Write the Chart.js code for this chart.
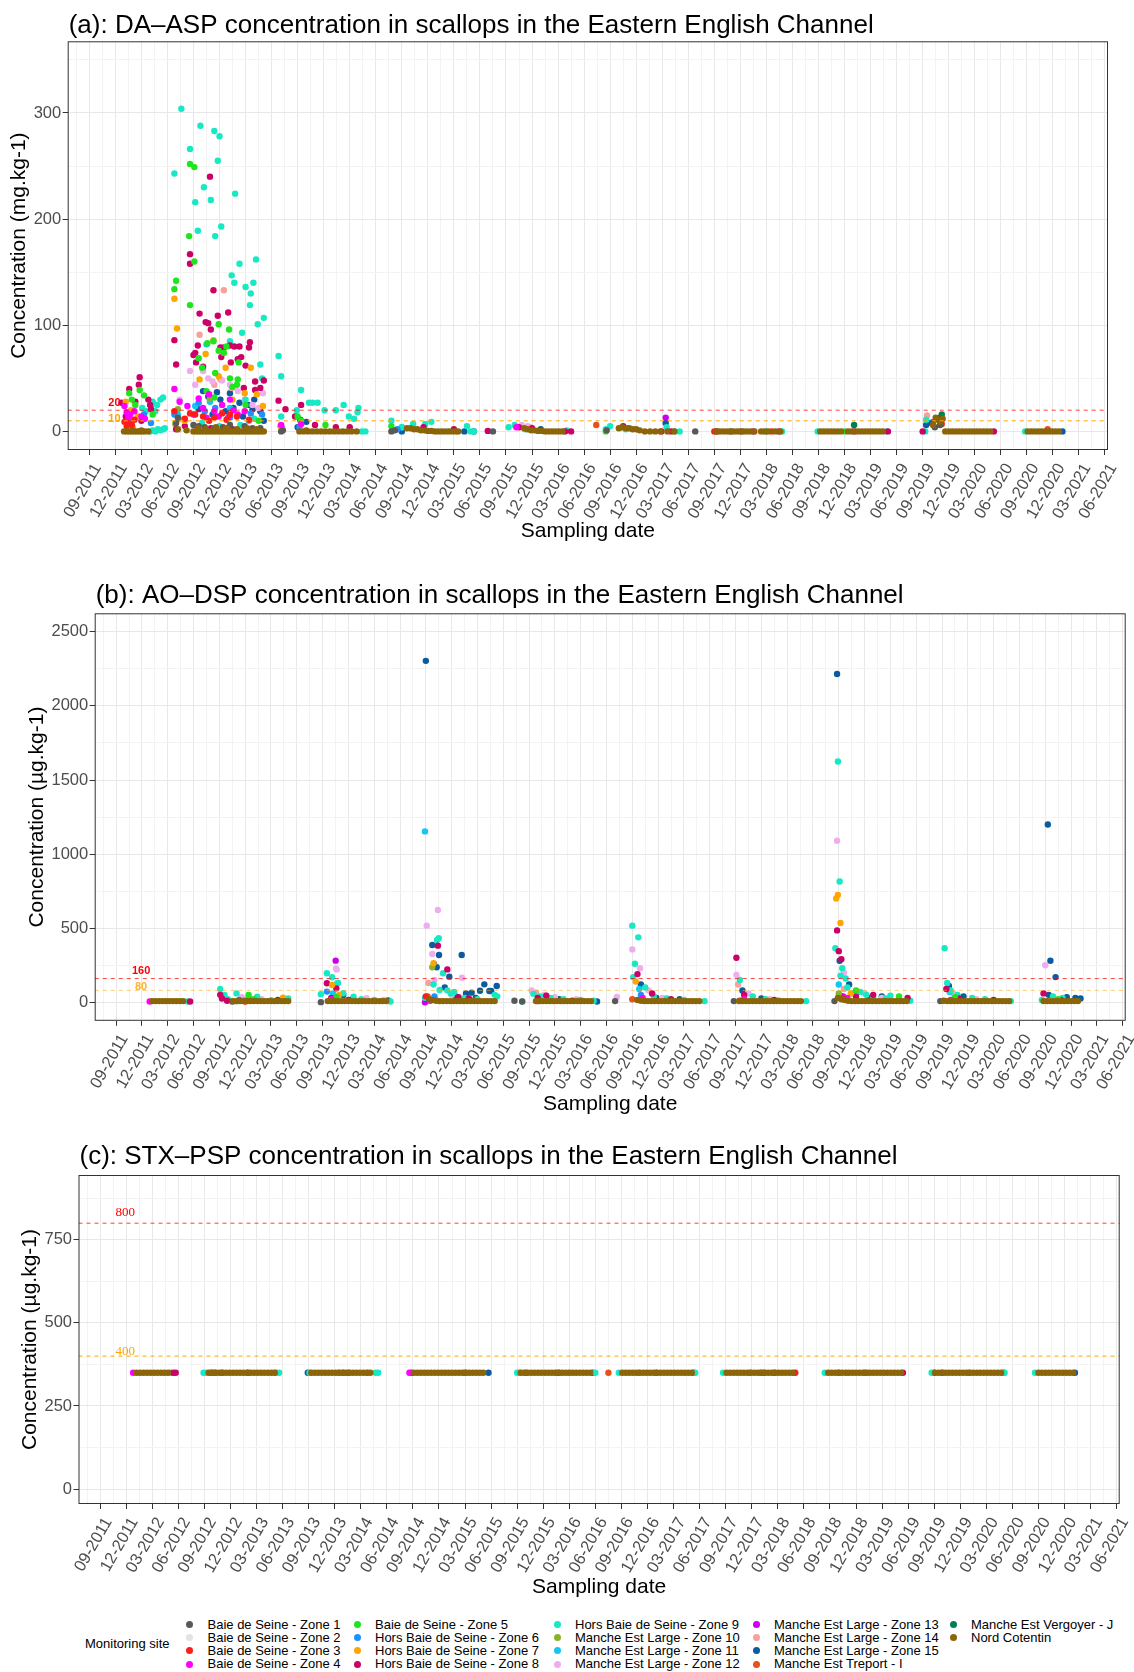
<!DOCTYPE html>
<html lang="en">
<head>
<meta charset="utf-8">
<title>Phycotoxins in scallops - Eastern English Channel</title>
<script src="https://cdn.jsdelivr.net/npm/chart.js@4"></script>
<style>
  * { box-sizing: border-box; margin: 0; padding: 0; }
  body { width: 1134px; height: 1672px; background: #fff; position: relative; overflow: hidden;
         font-family: 'Liberation Sans', Arial, sans-serif; }
  canvas.panel { position: absolute; left: 0; }
  .lg-item { position: absolute; height: 14px; line-height: 14px; font-size: 13px; color: #000;
             white-space: nowrap; display: flex; align-items: center; }
  .lg-dot { width: 7px; height: 7px; border-radius: 50%; margin-right: 14.5px; flex: none; }
  #lgTitle { position: absolute; left: 85px; top: 1637px; font-size: 13px; line-height: 14px; color: #000; }
</style>
</head>
<body>
<canvas id="aspChart" class="panel" width="1134" height="544" style="top:0"></canvas>
<canvas id="dspChart" class="panel" width="1134" height="557" style="top:560px"></canvas>
<canvas id="pspChart" class="panel" width="1134" height="480" style="top:1120px"></canvas>
<div id="lgTitle">Monitoring site</div>
<div id="legend"></div>
<script>
// x values are months counted from 01-2011 (8 = 09-2011, 20 = 09-2012, ...)
const dateTicks = ['09-2011','12-2011','03-2012','06-2012','09-2012','12-2012','03-2013','06-2013',
  '09-2013','12-2013','03-2014','06-2014','09-2014','12-2014','03-2015','06-2015','09-2015','12-2015',
  '03-2016','06-2016','09-2016','12-2016','03-2017','06-2017','09-2017','12-2017','03-2018','06-2018',
  '09-2018','12-2018','03-2019','06-2019','09-2019','12-2019','03-2020','06-2020','09-2020','12-2020',
  '03-2021','06-2021'];
const firstTick = 8;

const sites = ['Baie de Seine - Zone 1','Baie de Seine - Zone 2','Baie de Seine - Zone 3','Baie de Seine - Zone 4',
  'Baie de Seine - Zone 5','Hors Baie de Seine - Zone 6','Hors Baie de Seine - Zone 7','Hors Baie de Seine - Zone 8',
  'Hors Baie de Seine - Zone 9','Manche Est Large - Zone 10','Manche Est Large - Zone 11','Manche Est Large - Zone 12',
  'Manche Est Large - Zone 13','Manche Est Large - Zone 14','Manche Est Large - Zone 15','Manche Est Treport - I',
  'Manche Est Vergoyer - J','Nord Cotentin'];
const siteColors = ['#595959','#E3E3E3','#FF1C1C','#FF00FF','#1EE51E','#1E90FF','#FFA500','#CC0066',
  '#16E9C4','#8AB32C','#13C7F5','#EEAEEE','#CC00EE','#F7A09C','#0A5BA0','#E8501C','#00804F','#8B6508'];

// ---- (a) DA-ASP, mg/kg : [month, value]
const aspZone1 = [[18.2,13],[18.0,8],[20.0,6],[20.6,5],[21.3,4],[22.4,3],[23.4,4],[24.2,6],[25.9,5],[26.8,3],[27.7,3],
  [30.1,0],[30.3,1],[42.8,0],[43.2,1],[54.5,0],[67.6,1],[77.8,0],[81.9,0],[83.1,0],[105.4,4],[106.0,6]];
const aspZone2 = [[18.4,1.5],[19.8,0],[20.6,0.5],[22.4,2.5],[25.0,0],[70.5,2],[85.0,0]];
const aspZone3 = [[12.05,9],[12.3,5],[12.9,6],[13.2,11],[12.5,8],[17.8,19],[19.6,17],[20.2,16],[21.1,14],[22.4,13],
  [23.3,17],[24.2,16],[25.0,14],[26.4,11],[21.8,10],[23.8,11],[19.0,12],[80.0,0],[86.6,0],[106.2,7]];
const aspZone4 = [[12.05,24],[12.3,18],[12.7,16],[13.2,19],[14.0,14],[12.5,13],[14.4,12],[17.8,40],[18.4,28],[19.3,24],
  [20.0,16],[20.6,31],[21.1,22],[21.5,13],[21.8,35],[22.4,19],[22.9,14],[23.3,25],[24.0,13],[24.2,30],[24.6,20],
  [25.1,16],[25.9,19],[30.1,6],[32.4,7],[57.2,4],[84.5,0],[96.1,0]];
const aspZone5 = [[12.6,36],[13.8,39],[14.3,34],[13.3,25],[15.3,16],[12.9,30],[18.0,142],[17.8,134],[19.6,252],
  [19.5,184],[20.1,249],[20.1,160],[19.6,119],[20.6,69],[21.6,83],[22.3,85],[22.9,101],[22.9,76],[23.5,74],[24.1,96],
  [23.8,80],[24.2,50],[24.5,42],[25.0,44],[25.2,65],[25.1,49],[22.5,55],[21.5,38],[22.4,32],[21.0,60],[26.0,25],
  [27.5,10],[32.0,14],[32.4,10],[35.2,6],[42.8,5],[67.5,0],[95.0,0]];
const aspZone6 = [[17.8,16],[20.6,27],[21.3,19],[22.5,22],[24.2,13],[26.6,17],[27.9,16],[14.3,16],[15.1,8],[32.2,4],[43.5,2]];
const aspZone7 = [[12.2,28],[12.8,20],[13.6,14],[12.3,8],[13.0,4],[17.8,125],[18.1,97],[20.7,49],[21.4,73],[22.3,86],
  [22.9,52],[23.7,60],[26.6,60],[25.9,36],[27.3,35],[28.0,24],[23.5,74],[24.5,30],[19.0,10],[30.0,5]];
const aspZone8 = [[11.7,27],[12.6,40],[13.8,51],[13.7,44],[13.3,28],[14.8,30],[15.0,25],[15.1,21],[12.2,14],[14.0,10],
  [17.8,86],[18.0,63],[19.6,167],[19.6,158],[20.7,111],[21.4,103],[21.7,102],[22.0,96],[21.9,240],[22.3,133],
  [22.8,109],[24.0,112],[23.1,79],[23.2,70],[23.5,79],[24.3,65],[24.2,81],[24.7,80],[25.3,80],[25.1,68],[25.5,70],
  [26.5,84],[26.0,62],[26.4,79],[27.1,47],[28.1,48],[25.8,41],[20.2,74],[20.3,65],[20.5,81],[20.0,72],[21.1,61],
  [27.1,39],[27.7,41],[18.0,2],[19.0,5],[22.0,3],[24.5,2],[26.8,1],[29.8,29],[30.6,21],[32.4,25],[31.7,14],[34.0,6],
  [36.4,4],[38.0,4],[46.5,4],[50.0,2],[53.9,0.5],[57.5,4],[59.0,3],[62.8,0],[63.5,0],[69.5,5],[73.9,0],[75.0,0],
  [80.3,0],[87.4,0],[100.0,0],[104.0,0],[112.2,0]];
const aspZone9 = [[14.1,22],[14.5,19],[15.1,24],[15.3,28],[15.6,19],[15.8,25],[16.2,30],[16.5,32],[15.0,0],[15.3,1],
  [15.6,0],[15.9,2],[16.2,1],[16.5,2],[16.7,3],[17.8,243],[18.6,304],[19.6,266],[20.8,288],[20.2,216],[20.5,189],
  [21.2,230],[22.4,283],[23.0,278],[22.8,255],[22.0,218],[22.5,184],[23.2,193],[24.8,224],[24.4,147],[24.7,140],
  [25.3,158],[25.6,93],[26.0,136],[26.5,119],[26.6,130],[26.9,140],[27.2,162],[27.4,101],[27.7,63],[28.1,107],
  [27.9,50],[24.2,85],[26.0,30],[27.0,12],[25.4,6],[21.0,8],[23.0,5],[29.8,71],[30.1,52],[30.1,14],[32.4,39],
  [31.9,20],[33.3,27],[33.7,27],[34.3,27],[35.1,20],[36.4,20],[37.3,25],[37.9,14],[38.5,12],[39.0,22],[38.9,18],
  [39.4,0],[39.8,0],[42.8,10],[44.0,4],[45.3,7],[46.7,7],[47.4,9],[51.5,5],[51.9,0],[52.3,0],[56.3,4],[57.0,6],
  [58.2,2],[63.0,1],[67.5,2],[68.0,5],[69.8,2],[74.5,4],[75.4,0],[76.0,0],[86.0,0],[87.8,0],[91.9,0],[99.8,0],
  [104.4,11],[104.3,0],[115.8,0]];
const aspZone10 = [[18.2,21],[18.3,12],[21.9,31],[17.9,7]];
const aspZone11 = [[20.2,24],[21.9,28],[24.2,22],[26.4,10],[18.2,16],[44.0,4],[12.9,10],[21.5,82]];
const aspZone12 = [[19.6,57],[21.1,57],[21.7,50],[22.2,47],[23.3,48],[25.1,38],[26.8,25],[28.0,36],[27.5,22],[24.2,44],
  [25.9,30],[20.2,44],[18.4,30],[54.0,0.5],[57.8,6],[58.5,5],[30.2,2]];
const aspZone13 = [[74.4,13],[30.2,3]];
const aspZone14 = [[23.5,133],[20.7,91],[23.1,49],[22.4,44],[24.4,41],[104.5,15],[58.8,4],[70.0,3]];
const aspZone15 = [[21.1,38],[21.7,33],[22.7,37],[23.1,30],[24.2,36],[24.6,22],[25.3,27],[26.3,25],[26.8,21],[27.0,30],
  [27.7,19],[20.6,21],[23.7,19],[22.2,16],[25.7,14],[28.1,10],[32.3,11],[33.0,9],[32.0,4],[44.0,0],[51.2,0],[52.3,0],
  [60.0,2],[74.4,8],[104.4,6],[105.0,8],[120.1,0]];
const aspTreport = [[66.4,6],[105.2,9],[118.4,2]];
const aspVergoyer = [[96.1,6],[106.2,16],[106.0,13]];
const aspNordCotentin = [[12.0,0],[12.3,0],[12.6,0],[12.9,0],[13.2,0],[13.5,0],[13.8,0],[14.1,0],[14.4,0],[14.8,0],
  [13.0,1],[14.0,1],[18.2,2],[19.2,1],[20.0,0],[20.3,0],[20.6,0],[20.9,0],[21.2,0],[21.5,0],[21.8,0],[22.1,0],
  [22.4,0],[22.7,0],[23.0,0],[23.3,0],[23.6,0],[23.9,0],[24.2,0],[24.5,0],[24.8,0],[25.1,0],[25.4,0],[25.7,0],
  [26.0,0],[26.3,0],[26.6,0],[26.9,0],[27.2,0],[27.5,0],[27.8,0],[28.1,0],[20.5,3],[21.4,2],[22.6,4],[23.8,3],
  [25.0,2],[26.2,3],[27.3,2],[32.2,0],[32.7,0],[33.2,0],[33.7,0],[34.2,0],[34.7,0],[35.2,0],[35.7,0],[36.2,0],
  [36.7,0],[37.2,0],[37.7,0],[38.2,0],[38.8,0],[33.0,1],[44.6,3],[45.0,3],[45.4,2],[45.8,2],[46.2,1],[46.6,1],
  [47.0,0.5],[47.4,0.5],[47.8,0],[48.2,0],[48.6,0],[49.0,0],[49.4,0],[49.8,0],[50.2,0],[50.5,0],[58.1,3],[58.5,2],
  [58.9,1],[59.3,1],[59.7,0.5],[60.1,0.5],[60.5,0],[60.9,0],[61.3,0],[61.7,0],[62.1,0],[62.5,0],[69.0,3],[69.4,4],
  [69.8,3],[70.2,3],[70.6,2],[71.0,2],[71.4,1],[72.0,0],[72.6,0],[73.2,0],[73.8,0],[74.6,0],[75.4,0],[80.2,0],
  [80.6,0],[81.0,0],[81.4,0],[81.8,0],[82.2,0],[82.6,0],[83.0,0],[83.4,0],[83.8,0],[84.2,0],[84.6,0],[85.4,0],
  [85.8,0],[86.2,0],[87.0,0],[87.6,0],[92.2,0],[92.6,0],[93.0,0],[93.4,0],[93.8,0],[94.2,0],[94.6,0],[95.4,0],
  [95.8,0],[96.2,0],[96.6,0],[97.0,0],[97.4,0],[97.8,0],[98.2,0],[98.6,0],[99.0,0],[99.4,0],[105.2,6],[105.5,13],
  [105.9,10],[106.0,9],[106.3,12],[106.6,0],[107.0,0],[107.4,0],[107.8,0],[108.2,0],[108.6,0],[109.0,0],[109.4,0],
  [109.8,0],[110.2,0],[110.6,0],[111.0,0],[111.4,0],[111.8,0],[116.1,0],[116.5,0],[116.9,0],[117.3,0],[117.7,0],
  [118.1,0],[118.5,0],[118.9,0],[119.3,0],[119.7,0]];

// ---- (b) AO-DSP, µg/kg : [month, value]
const dspZone1 = [[21.5,5],[31.8,1],[54.3,10],[55.2,5],[66.0,8],[79.8,8],[91.5,8],[103.8,8]];
const dspZone2 = [[22.0,3],[57.0,3]];
const dspZone3 = [[23.0,5],[44.0,40],[80.5,10],[92.5,30]];
const dspZone4 = [[11.9,5],[22.3,15],[33.0,20],[44.5,10],[69.2,30],[81.0,20],[93.0,30],[105.0,15]];
const dspZone5 = [[23.4,49],[24.0,20],[33.6,35],[94.0,80],[99.0,40],[117.5,20],[105.5,35]];
const dspZone6 = [[32.5,72],[45.0,40],[69.0,50]];
const dspZone7 = [[27.4,31],[33.1,117],[33.9,50],[44.9,263],[68.4,140],[91.7,700],[91.9,725],[92.2,535],[93.4,60]];
const dspZone8 = [[16.6,5],[20.1,50],[20.3,25],[20.9,10],[23.5,20],[32.5,128],[33.6,94],[33.0,30],[35.0,15],[45.4,382],
  [46.5,222],[47.8,35],[49.0,25],[57.0,30],[58.0,45],[61.0,10],[68.6,190],[70.3,60],[72.5,20],[80.1,300],[81.0,50],
  [84.5,15],[91.8,485],[92.0,345],[92.3,290],[96.0,50],[100.0,30],[94.0,40],[104.5,90],[106.0,25],[115.8,60],[117.8,15]];
const dspZone9 = [[16.3,5],[20.1,90],[20.6,50],[22.0,60],[24.4,38],[28.0,25],[21.0,20],[23.0,15],[26.0,12],[27.6,10],
  [32.5,196],[33.1,169],[33.7,128],[33.8,130],[31.8,54],[34.4,61],[35.6,38],[36.5,20],[38.0,15],[39.9,5],[43.9,30],
  [45.5,432],[45.3,420],[46.0,196],[45.6,83],[44.9,120],[46.5,80],[47.3,70],[46.9,60],[52.0,50],[52.3,40],[48.5,30],
  [50.0,20],[56.5,57],[57.3,40],[58.5,30],[60.0,20],[62.0,15],[63.5,10],[55.2,5],[68.0,517],[68.7,438],[68.3,260],
  [68.1,170],[69.5,100],[70.5,40],[72.0,25],[74.0,15],[76.4,8],[80.5,150],[82.0,40],[83.5,20],[85.0,12],[88.2,8],
  [91.9,1625],[92.1,815],[91.6,365],[92.4,230],[92.2,180],[92.8,160],[93.0,100],[94.5,70],[98.0,45],[96.0,35],
  [97.5,25],[100.3,10],[93.6,60],[95.2,50],[104.3,365],[104.6,130],[105.0,80],[105.8,50],[107.5,30],[109.0,20],
  [112.0,8],[116.9,40],[118.0,30],[115.6,15]];
const dspZone10 = [[44.75,236],[92.0,60]];
const dspZone11 = [[43.9,1153],[33.2,60],[68.8,90],[92.0,120],[104.9,70]];
const dspZone12 = [[22.6,35],[24.9,20],[33.64,222],[33.55,229],[37.1,27],[39.1,16],[44.1,517],[45.4,623],[44.75,326],
  [48.2,166],[45.0,150],[47.0,50],[56.3,80],[57.8,50],[59.0,35],[61.5,20],[66.2,36],[68.0,357],[68.9,230],[69.9,80],
  [71.5,30],[80.1,185],[81.5,60],[84.0,20],[91.8,1090],[92.6,200],[95.0,60],[97.0,30],[105.3,60],[108.0,20],
  [116.0,250],[117.0,20]];
const dspZone13 = [[33.52,281],[43.9,0],[92.5,40]];
const dspZone14 = [[56.8,65],[80.3,120],[44.3,130],[92.6,90]];
const dspZone15 = [[26.0,10],[26.8,15],[34.4,49],[35.5,20],[39.6,12],[44.0,2304],[44.75,387],[45.53,319],[44.95,258],
  [45.26,236],[46.73,173],[48.17,319],[48.67,60],[49.33,65],[50.3,78],[50.8,121],[51.38,76],[51.6,76],[52.24,110],
  [47.5,40],[49.8,30],[46.2,100],[59.5,20],[63.9,5],[69.0,120],[70.8,30],[73.5,20],[80.8,80],[83.0,25],[91.8,2215],
  [92.1,280],[93.2,120],[97.0,40],[95.5,30],[99.0,20],[104.8,110],[106.5,40],[110.0,15],[116.3,1200],[116.6,280],
  [117.2,170],[116.4,50],[119.5,30],[120.1,25],[118.5,35]];
const dspTreport = [[44.2,40],[68.0,20]];
const dspVergoyer = [[92.2,45]];
const dspNordCotentin = [[12.2,8],[12.6,8],[13.0,8],[13.4,8],[13.8,8],[14.2,8],[14.6,8],[15.0,8],[15.4,8],[15.8,8],
  [21.6,8],[22.0,8],[22.4,8],[22.8,8],[23.2,8],[23.6,8],[24.0,8],[24.4,8],[24.8,8],[25.2,8],[25.6,8],[26.0,8],
  [26.4,8],[26.8,8],[27.2,8],[27.6,8],[28.0,8],[32.6,8],[33.0,8],[33.4,8],[33.8,8],[34.2,8],[34.6,8],[35.0,8],
  [35.4,8],[35.8,8],[36.2,8],[36.6,8],[37.0,8],[37.4,8],[37.8,8],[38.2,8],[38.6,8],[39.0,8],[39.4,8],[44.4,20],
  [44.8,15],[45.2,10],[45.6,8],[46.0,8],[46.4,8],[46.8,8],[47.2,8],[47.6,8],[48.0,8],[48.4,8],[48.8,8],[49.2,8],
  [49.6,8],[50.0,8],[50.4,8],[50.8,8],[51.2,8],[51.6,8],[52.0,8],[56.8,8],[57.2,8],[57.6,8],[58.0,8],[58.4,8],
  [58.8,8],[59.2,8],[59.6,8],[60.0,8],[60.4,8],[60.8,8],[61.2,8],[61.6,8],[62.0,8],[62.4,8],[62.8,8],[63.2,8],
  [68.6,15],[69.0,10],[69.4,8],[69.8,8],[70.2,8],[70.6,8],[71.0,8],[71.4,8],[71.8,8],[72.2,8],[72.6,8],[73.0,8],
  [73.4,8],[73.8,8],[74.2,8],[74.6,8],[75.0,8],[75.4,8],[75.8,8],[80.4,8],[80.8,8],[81.2,8],[81.6,8],[82.0,8],
  [82.4,8],[82.8,8],[83.2,8],[83.6,8],[84.0,8],[84.4,8],[84.8,8],[85.2,8],[85.6,8],[86.0,8],[86.4,8],[86.8,8],
  [87.2,8],[87.6,8],[91.9,30],[92.3,20],[92.7,15],[93.1,10],[93.5,8],[93.9,8],[94.3,8],[94.7,8],[95.1,8],[95.5,8],
  [95.9,8],[96.3,8],[96.7,8],[97.1,8],[97.5,8],[97.9,8],[98.3,8],[98.7,8],[99.1,8],[99.5,8],[99.9,8],[104.2,10],
  [104.6,8],[105.0,8],[105.4,8],[105.8,8],[106.2,8],[106.6,8],[107.0,8],[107.4,8],[107.8,8],[108.2,8],[108.6,8],
  [109.0,8],[109.4,8],[109.8,8],[110.2,8],[110.6,8],[111.0,8],[111.4,8],[111.8,8],[115.8,8],[116.2,8],[116.6,8],
  [117.0,8],[117.4,8],[117.8,8],[118.2,8],[118.6,8],[119.0,8],[119.4,8],[119.8,8]];

// ---- (c) STX-PSP : every result reported at the same level, so only sampling months are listed
const pspLevel = 350;
const pspZone1 = [21.2,22.0,36.6,60.8,72.0,104.9];
const pspZone3 = [57.0,84.4,88.0];
const pspZone4 = [11.8,43.6,96.0];
const pspZone8 = [16.4,16.7,20.8,25.0,85.6,100.4];
const pspZone9 = [16.05,19.9,20.2,28.3,28.6,32.1,39.7,40.0,56.0,56.3,60.5,65.0,67.7,70.0,76.5,79.7,88.0,91.4,
  103.7,112.1,115.6];
const pspZone11 = [38.8];
const pspZone12 = [28.0,62.0,96.4];
const pspZone13 = [36.0,104.0];
const pspZone14 = [94.0];
const pspZone15 = [31.9,43.8,52.7,64.7,76.3,112.0,120.2];
const pspTreport = [35.5,66.5,82.8,84.0,108.0];
const pspVergoyer = [50.0,93.0];
const pspNordCotentin = [12.2,12.6,13.0,13.4,13.8,14.2,14.6,15.0,15.4,15.8,
  20.5,20.9,21.3,21.7,22.1,22.5,22.9,23.3,23.7,24.1,24.5,24.9,25.3,25.7,26.1,26.5,26.9,27.3,27.7,28.1,
  32.3,32.7,33.1,33.5,33.9,34.3,34.7,35.1,35.5,35.9,36.3,36.7,37.1,37.5,37.9,38.3,38.7,39.1,
  44.1,44.5,44.9,45.3,45.7,46.1,46.5,46.9,47.3,47.7,48.1,48.5,48.9,49.3,49.7,50.1,50.5,50.9,51.3,51.7,52.1,
  56.4,56.8,57.2,57.6,58.0,58.4,58.8,59.2,59.6,60.0,60.4,60.8,61.2,61.6,62.0,62.4,62.8,63.2,63.6,64.0,64.4,
  68.1,68.5,68.9,69.3,69.7,70.1,70.5,70.9,71.3,71.7,72.1,72.5,72.9,73.3,73.7,74.1,74.5,74.9,75.3,75.7,76.1,
  80.1,80.5,80.9,81.3,81.7,82.1,82.5,82.9,83.3,83.7,84.1,84.5,84.9,85.3,85.7,86.1,86.5,86.9,87.3,87.7,
  91.8,92.2,92.6,93.0,93.4,93.8,94.2,94.6,95.0,95.4,95.8,96.2,96.6,97.0,97.4,97.8,98.2,98.6,99.0,99.4,99.8,100.2,
  104.1,104.5,104.9,105.3,105.7,106.1,106.5,106.9,107.3,107.7,108.1,108.5,108.9,109.3,109.7,110.1,110.5,110.9,
  111.3,111.7,116.0,116.4,116.8,117.2,117.6,118.0,118.4,118.8,119.2,119.6,120.0];

const aspBySite = [aspZone1,aspZone2,aspZone3,aspZone4,aspZone5,aspZone6,aspZone7,aspZone8,aspZone9,aspZone10,
  aspZone11,aspZone12,aspZone13,aspZone14,aspZone15,aspTreport,aspVergoyer,aspNordCotentin];
const dspBySite = [dspZone1,dspZone2,dspZone3,dspZone4,dspZone5,dspZone6,dspZone7,dspZone8,dspZone9,dspZone10,
  dspZone11,dspZone12,dspZone13,dspZone14,dspZone15,dspTreport,dspVergoyer,dspNordCotentin];
const pspBySite = [pspZone1,[],pspZone3,pspZone4,[],[],[],pspZone8,pspZone9,[],pspZone11,pspZone12,pspZone13,
  pspZone14,pspZone15,pspTreport,pspVergoyer,pspNordCotentin];

// ---------------------------------------------------------------------------
const FONT = "'Liberation Sans', Arial, sans-serif";
const xMin = 5.51, xMax = 125.35;
const xGrid = dateTicks.flatMap((d, i) => [firstTick + 3 * i - 1.5, firstTick + 3 * i]);
const labelMonth = 10.9;

function siteDatasets(bySite, toPoint) {
  const out = [];
  bySite.forEach((pts, i) => {
    if (!pts.length) return;
    out.push({
      label: sites[i], data: pts.map(toPoint),
      backgroundColor: siteColors[i], borderColor: siteColors[i], borderWidth: 0,
      pointRadius: 3.2, pointHoverRadius: 3.2,
      order: i === sites.length - 1 ? 1 : 2
    });
  });
  return out;
}

const panelDecor = {
  id: 'panelDecor',
  afterDraw(chart, args, o) {
    const { ctx, chartArea: a, scales: { x, y } } = chart;
    ctx.save();
    ctx.strokeStyle = '#333333'; ctx.lineWidth = 1;
    ctx.strokeRect(a.left + 0.5, a.top + 0.5, a.right - a.left - 1, a.bottom - a.top - 1);

    ctx.fillStyle = '#000'; ctx.font = '26px ' + FONT;
    ctx.textAlign = 'left'; ctx.textBaseline = 'alphabetic';
    ctx.fillText(o.title, a.left + 1, a.top - o.titleGap);

    // rotated date labels
    const ang = 60 * Math.PI / 180, size = 16.5, cap = 0.716 * size;
    ctx.font = size + 'px ' + FONT; ctx.fillStyle = '#4D4D4D'; ctx.textAlign = 'right';
    dateTicks.forEach((lab, i) => {
      const px = x.getPixelForValue(firstTick + 3 * i);
      ctx.save();
      ctx.translate(px + 2 + cap * Math.sin(ang), a.bottom + 11.3 + cap * Math.cos(ang));
      ctx.rotate(-ang);
      ctx.fillText(lab, 0, 0);
      ctx.restore();
    });

    ctx.textAlign = 'center'; ctx.textBaseline = 'middle'; ctx.font = o.labelFont;
    o.thresholds.forEach(t => {
      ctx.fillStyle = t.textColor;
      ctx.fillText(String(t.value), x.getPixelForValue(labelMonth), y.getPixelForValue(t.labelAt));
    });
    ctx.restore();
  }
};

function makePanel(p) {
  const H = document.getElementById(p.id).height;
  const thresholdSets = p.thresholds.map(t => ({
    type: 'line', data: [{ x: xMin, y: t.value }, { x: xMax, y: t.value }],
    borderColor: t.lineColor, borderWidth: 1, borderDash: [4, 4], pointRadius: 0, fill: false, order: 0
  }));
  return new Chart(document.getElementById(p.id), {
    type: 'scatter',
    data: { datasets: thresholdSets.concat(p.datasets) },
    options: {
      responsive: false, animation: false, devicePixelRatio: 1, events: [],
      layout: { padding: { top: p.plotTop - p.canvasTop, right: 1134 - p.plotRight, left: 0, bottom: 0 } },
      plugins: {
        legend: { display: false }, tooltip: { enabled: false },
        panelDecor: { title: p.title, titleGap: p.titleGap, thresholds: p.thresholds, labelFont: p.labelFont }
      },
      scales: {
        x: {
          type: 'linear', min: xMin, max: xMax,
          afterBuildTicks: s => { s.ticks = xGrid.map(v => ({ value: v })); },
          afterFit: s => { s.height = H - (p.plotBottom - p.canvasTop); },
          ticks: { display: false },
          border: { display: false },
          grid: {
            color: c => (c.tick && Number.isInteger(c.tick.value)) ? '#E8E8E8' : '#F3F3F3',
            tickColor: c => (c.tick && Number.isInteger(c.tick.value)) ? '#333333' : 'rgba(0,0,0,0)',
            tickLength: 5, tickWidth: 1
          },
          title: { display: true, text: 'Sampling date', color: '#000', padding: 0, font: { size: 21, family: FONT } }
        },
        y: {
          type: 'linear', min: p.yMin, max: p.yMax,
          afterBuildTicks: s => { s.ticks = p.yMajor.concat(p.yMinor).sort((m, n) => m - n).map(v => ({ value: v })); },
          afterFit: s => { s.width = p.plotLeft; },
          border: { display: false },
          ticks: {
            autoSkip: false, padding: 1.5, color: '#4D4D4D', font: { size: 16.5, family: FONT },
            callback: v => p.yMajor.includes(v) ? String(v) : ''
          },
          grid: {
            color: c => (c.tick && p.yMajor.includes(c.tick.value)) ? '#E8E8E8' : '#F3F3F3',
            tickColor: c => (c.tick && p.yMajor.includes(c.tick.value)) ? '#333333' : 'rgba(0,0,0,0)',
            tickLength: 5, tickWidth: 1
          },
          title: { display: true, text: p.yTitle, color: '#000', padding: { top: p.yTitlePad, bottom: 0 },
                   font: { size: 21, family: FONT } }
        }
      }
    },
    plugins: [panelDecor]
  });
}

makePanel({
  id: 'aspChart', canvasTop: 0, plotTop: 41.3, plotBottom: 450, plotLeft: 67.7, plotRight: 1108,
  yMin: -17.5, yMax: 367.5, yMajor: [0, 100, 200, 300], yMinor: [50, 150, 250, 350],
  yTitle: 'Concentration (mg.kg-1)', yTitlePad: 7, titleGap: 8,
  title: '(a): DA\u2013ASP concentration in scallops in the Eastern English Channel',
  labelFont: 'bold 11px ' + FONT,
  thresholds: [
    { value: 20, labelAt: 26.8, lineColor: 'rgba(255,0,0,0.75)', textColor: '#FF0000' },
    { value: 10, labelAt: 12, lineColor: '#FFA500', textColor: '#FFA500' }
  ],
  datasets: siteDatasets(aspBySite, ([x, y]) => ({ x, y }))
});

makePanel({
  id: 'dspChart', canvasTop: 560, plotTop: 613.3, plotBottom: 1020.8, plotLeft: 94.7, plotRight: 1125.7,
  yMin: -125, yMax: 2625, yMajor: [0, 500, 1000, 1500, 2000, 2500], yMinor: [250, 750, 1250, 1750, 2250],
  yTitle: 'Concentration (\u00b5g.kg-1)', yTitlePad: 24.4, titleGap: 10.6,
  title: '(b): AO\u2013DSP concentration in scallops in the Eastern English Channel',
  labelFont: 'bold 11px ' + FONT,
  thresholds: [
    { value: 160, labelAt: 213, lineColor: 'rgba(255,0,0,0.75)', textColor: '#FF0000' },
    { value: 80, labelAt: 101, lineColor: 'rgba(255,165,0,0.55)', textColor: '#FFB030' }
  ],
  datasets: siteDatasets(dspBySite, ([x, y]) => ({ x, y }))
});

makePanel({
  id: 'pspChart', canvasTop: 1120, plotTop: 1175, plotBottom: 1504, plotLeft: 78.5, plotRight: 1119.7,
  yMin: -45, yMax: 945, yMajor: [0, 250, 500, 750], yMinor: [125, 375, 625, 875],
  yTitle: 'Concentration (\u00b5g.kg-1)', yTitlePad: 17.4, titleGap: 11,
  title: '(c): STX\u2013PSP concentration in scallops in the Eastern English Channel',
  labelFont: "13px 'Liberation Serif', 'Times New Roman', serif",
  thresholds: [
    { value: 800, labelAt: 832, lineColor: 'rgba(255,0,0,0.75)', textColor: '#FF0000' },
    { value: 400, labelAt: 413, lineColor: '#FFA500', textColor: '#FFA500' }
  ],
  datasets: siteDatasets(pspBySite, m => ({ x: m, y: pspLevel }))
});

// legend, 4 rows per column
const legendCols = [189.5, 357, 557, 756, 953];
const legendRows = [1624.5, 1637.7, 1650.9, 1664.1];
const legendBox = document.getElementById('legend');
sites.forEach((s, i) => {
  const item = document.createElement('div');
  item.className = 'lg-item';
  item.style.left = (legendCols[Math.floor(i / 4)] - 3.5) + 'px';
  item.style.top = (legendRows[i % 4] - 7) + 'px';
  const dot = document.createElement('span');
  dot.className = 'lg-dot';
  dot.style.background = siteColors[i];
  const txt = document.createElement('span');
  txt.textContent = s;
  item.append(dot, txt);
  legendBox.appendChild(item);
});
</script>
</body>
</html>
